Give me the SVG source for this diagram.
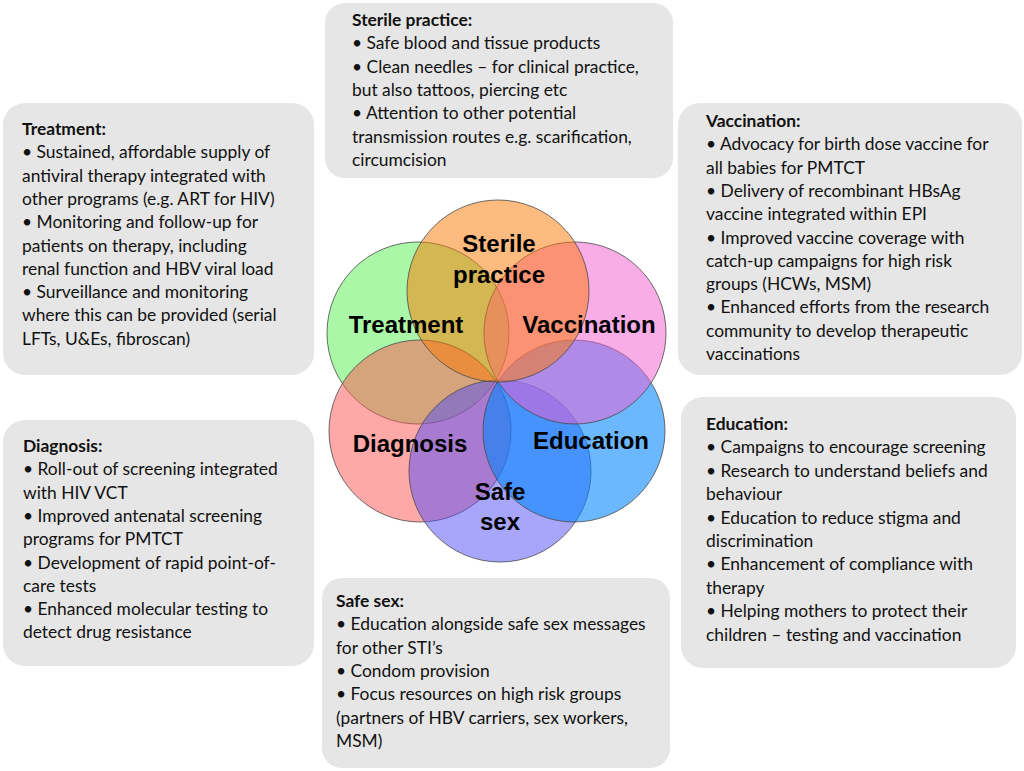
<svg xmlns="http://www.w3.org/2000/svg" width="1024" height="771" viewBox="0 0 1024 771">
<style>
.box{fill:#E6E6E6;}
.t{font-family:Lato,"Liberation Sans",sans-serif;font-size:17.4px;fill:#111;}
.h{font-weight:bold;}
.c{stroke:#4a4a4a;stroke-width:1;stroke-opacity:0.8;}
.lbl{font-family:"Liberation Sans",Arial,sans-serif;font-weight:bold;font-size:24px;fill:#000;text-anchor:middle;}
</style>
<rect width="1024" height="771" fill="#fff"/>
<g id="circles">
<g id="circle-treatment"><circle class="c" cx="418" cy="333" r="91" fill="#55F050" fill-opacity="0.5"/></g>
<g id="circle-diagnosis"><circle class="c" cx="420" cy="431" r="91" fill="#FF5151" fill-opacity="0.5"/></g>
<g id="circle-safesex"><circle class="c" cx="500" cy="471" r="91" fill="#514DF7" fill-opacity="0.5"/></g>
<g id="circle-education"><circle class="c" cx="574" cy="431" r="91" fill="#0084FF" fill-opacity="0.58"/></g>
<g id="circle-vaccination"><circle class="c" cx="575" cy="333" r="91" fill="#F35BCD" fill-opacity="0.5"/></g>
<g id="circle-sterile"><circle class="c" cx="498" cy="291" r="91" fill="#FB7700" fill-opacity="0.5"/></g>
</g>
<g id="labels">
<g id="label-sterile"><text class="lbl" x="499" y="252">Sterile</text><text class="lbl" x="499" y="283">practice</text></g>
<g id="label-treatment"><text class="lbl" x="406" y="333">Treatment</text></g>
<g id="label-vaccination"><text class="lbl" x="589" y="333">Vaccination</text></g>
<g id="label-diagnosis"><text class="lbl" x="410" y="452">Diagnosis</text></g>
<g id="label-education"><text class="lbl" x="591" y="449">Education</text></g>
<g id="label-safesex"><text class="lbl" x="500" y="500">Safe</text><text class="lbl" x="500" y="530">sex</text></g>
</g>
<g id="connectors"></g>
<g id="box-sterile">
<rect class="box" x="325" y="3" width="348" height="175" rx="20"/>
<text class="t"><tspan class="h" x="352" y="26">Sterile practice:</tspan><tspan x="352" y="49.3">• Safe blood and tissue products</tspan><tspan x="352" y="72.6">• Clean needles – for clinical practice,</tspan><tspan x="352" y="95.9">but also tattoos, piercing etc</tspan><tspan x="352" y="119.2">• Attention to other potential</tspan><tspan x="352" y="142.5">transmission routes e.g. scarification,</tspan><tspan x="352" y="165.8">circumcision</tspan></text>
</g>
<g id="box-treatment">
<rect class="box" x="3" y="103" width="311" height="272" rx="22"/>
<text class="t"><tspan class="h" x="22" y="135">Treatment:</tspan><tspan x="22" y="158.3">• Sustained, affordable supply of</tspan><tspan x="22" y="181.6">antiviral therapy integrated with</tspan><tspan x="22" y="204.9">other programs (e.g. ART for HIV)</tspan><tspan x="22" y="228.2">• Monitoring and follow-up for</tspan><tspan x="22" y="251.5">patients on therapy, including</tspan><tspan x="22" y="274.8">renal function and HBV viral load</tspan><tspan x="22" y="298.1">• Surveillance and monitoring</tspan><tspan x="22" y="321.4">where this can be provided (serial</tspan><tspan x="22" y="344.7">LFTs, U&amp;Es, fibroscan)</tspan></text>
</g>
<g id="box-vaccination">
<rect class="box" x="678" y="103" width="344" height="272" rx="22"/>
<text class="t"><tspan class="h" x="706" y="127">Vaccination:</tspan><tspan x="706" y="150.3">• Advocacy for birth dose vaccine for</tspan><tspan x="706" y="173.6">all babies for PMTCT</tspan><tspan x="706" y="196.9">• Delivery of recombinant HBsAg</tspan><tspan x="706" y="220.2">vaccine integrated within EPI</tspan><tspan x="706" y="243.5">• Improved vaccine coverage with</tspan><tspan x="706" y="266.8">catch-up campaigns for high risk</tspan><tspan x="706" y="290.1">groups (HCWs, MSM)</tspan><tspan x="706" y="313.4">• Enhanced efforts from the research</tspan><tspan x="706" y="336.7">community to develop therapeutic</tspan><tspan x="706" y="360">vaccinations</tspan></text>
</g>
<g id="box-diagnosis">
<rect class="box" x="3" y="420" width="311" height="246" rx="22"/>
<text class="t"><tspan class="h" x="23" y="452">Diagnosis:</tspan><tspan x="23" y="475.3">• Roll-out of screening integrated</tspan><tspan x="23" y="498.6">with HIV VCT</tspan><tspan x="23" y="521.9">• Improved antenatal screening</tspan><tspan x="23" y="545.2">programs for PMTCT</tspan><tspan x="23" y="568.5">• Development of rapid point-of-</tspan><tspan x="23" y="591.8">care tests</tspan><tspan x="23" y="615.1">• Enhanced molecular testing to</tspan><tspan x="23" y="638.4">detect drug resistance</tspan></text>
</g>
<g id="box-education">
<rect class="box" x="681" y="397" width="335" height="271" rx="22"/>
<text class="t"><tspan class="h" x="706" y="430">Education:</tspan><tspan x="706" y="453.4">• Campaigns to encourage screening</tspan><tspan x="706" y="476.8">• Research to understand beliefs and</tspan><tspan x="706" y="500.2">behaviour</tspan><tspan x="706" y="523.6">• Education to reduce stigma and</tspan><tspan x="706" y="547">discrimination</tspan><tspan x="706" y="570.4">• Enhancement of compliance with</tspan><tspan x="706" y="593.8">therapy</tspan><tspan x="706" y="617.2">• Helping mothers to protect their</tspan><tspan x="706" y="640.6">children – testing and vaccination</tspan></text>
</g>
<g id="box-safesex">
<rect class="box" x="322" y="578" width="348" height="190" rx="20"/>
<text class="t"><tspan class="h" x="336" y="607">Safe sex:</tspan><tspan x="336" y="630.3">• Education alongside safe sex messages</tspan><tspan x="336" y="653.6">for other STI’s</tspan><tspan x="336" y="676.9">• Condom provision</tspan><tspan x="336" y="700.2">• Focus resources on high risk groups</tspan><tspan x="336" y="723.5">(partners of HBV carriers, sex workers,</tspan><tspan x="336" y="746.8">MSM)</tspan></text>
</g>
</svg>
